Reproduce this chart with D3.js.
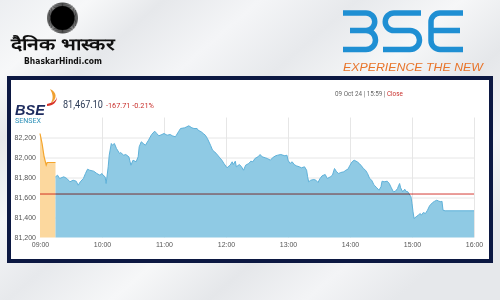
<!DOCTYPE html>
<meta charset="utf-8">
<style>
body { margin: 0; }
svg { display: block; font-family: Roboto, "Liberation Sans", sans-serif; }
.grid line { stroke: #e6e6e6; stroke-width: 1; }
.axis text { fill: #555; font-size: 7px; }
.axis path, .axis line { display: none; }
</style>
<svg width="500" height="300"></svg>
<script src="https://d3js.org/d3.v7.min.js"></script>
<script>

// pre-open session (orange)
var preTimes = ["09:00", "09:02", "09:04", "09:06", "09:07", "09:15"];
var preValues = [82240, 82140, 82005, 81925, 81950, 81950];

// normal session
var times = [
  "09:15","09:17","09:19","09:23","09:26","09:29","09:32","09:35","09:37","09:39",
  "09:42","09:44","09:46","09:48","09:52","09:55","09:58","10:00","10:01","10:03",
  "10:04","10:06","10:07","10:09","10:10","10:12","10:14","10:17","10:18","10:21",
  "10:23","10:26","10:28","10:30","10:33","10:35","10:36","10:38","10:40","10:42",
  "10:45","10:48","10:51","10:53","10:55","10:58","11:00","11:03","11:06","11:08",
  "11:11","11:12","11:14","11:16","11:20","11:22","11:24","11:27","11:29","11:32",
  "11:33","11:36","11:38","11:40","11:42","11:45","11:47","11:49","11:52","11:54",
  "11:56","11:58","12:01","12:02","12:04","12:06","12:07","12:09","12:10","12:13",
  "12:15","12:17","12:19","12:22","12:24","12:26","12:28","12:31","12:33","12:35",
  "12:38","12:40","12:43","12:45","12:48","12:50","12:53","12:57","12:59","13:00",
  "13:02","13:04","13:06","13:08","13:11","13:13","13:16","13:18","13:19","13:20",
  "13:22","13:25","13:27","13:29","13:31","13:33","13:36","13:38","13:41","13:43",
  "13:45","13:47","13:49","13:51","13:54","13:56","13:58","14:00","14:02","14:04",
  "14:07","14:09","14:11","14:13","14:15","14:17","14:19","14:21","14:23","14:24",
  "14:26","14:28","14:30","14:31","14:33","14:36","14:38","14:40","14:42","14:44",
  "14:46","14:47","14:48","14:49","14:51","14:53","14:54","14:56","14:57","14:59",
  "15:00","15:01","15:02","15:04","15:06","15:08","15:09","15:11","15:13","15:15",
  "15:17","15:20","15:22","15:24","15:26","15:28","15:29","15:30","15:32","16:00"
];
var values = [
  81807,81823,81790,81807,81790,81757,81773,81763,81723,81757,
  81790,81840,81883,81873,81863,81840,81823,81840,81823,81807,
  81740,81907,82023,82140,82123,82140,82090,82040,82050,82023,
  82030,82007,81923,81973,81957,82007,82107,82157,82140,82123,
  82173,82230,82263,82240,82217,82230,82240,82223,82230,82217,
  82207,82223,82257,82290,82297,82307,82317,82297,82290,82290,
  82273,82257,82240,82223,82190,82123,82073,82057,82023,81997,
  81973,81940,81897,81907,81923,81957,81930,81963,81907,81930,
  81907,81873,81923,81940,81963,81957,81990,82007,82030,82007,
  81997,81990,81973,81997,82017,82023,82030,82017,82023,81973,
  81940,81957,81930,81917,81907,81897,81907,81873,81807,81757,
  81773,81780,81773,81750,81790,81817,81830,81790,81807,81823,
  81890,81857,81840,81850,81857,81873,81883,81923,81957,81973,
  81957,81940,81917,81890,81873,81840,81790,81773,81730,81717,
  81697,81673,81707,81763,81757,81763,81740,81697,81657,81663,
  81690,81717,81740,81697,81657,81683,81663,81657,81640,81607,
  81540,81457,81390,81407,81423,81440,81423,81450,81440,81473,
  81517,81550,81563,81573,81563,81557,81563,81473,81467,81467
];

var prevClose = 81634.81;
var yTicks = [81200, 81400, 81600, 81800, 82000, 82200];
var xTicks = ["09:00","10:00","11:00","12:00","13:00","14:00","15:00","16:00"];

var svg = d3.select("svg");
var parse = d3.timeParse("%H:%M");

// background
var defs = svg.append("defs");
var bg = defs.append("linearGradient").attr("id", "bg")
    .attr("x1", 0).attr("y1", 0).attr("x2", 1).attr("y2", 0.7);
[["0%","#eceef1"],["12%","#f7f8f9"],["22%","#e6e8eb"],["35%","#f4f5f7"],["48%","#e7e9ec"],
 ["62%","#f6f7f8"],["75%","#e5e7ea"],["88%","#f3f4f6"],["100%","#e6e8eb"]].forEach(function(s) {
  bg.append("stop").attr("offset", s[0]).attr("stop-color", s[1]);
});
svg.append("rect").attr("width", 500).attr("height", 300).attr("fill", "url(#bg)");

// Dainik Bhaskar logo
var sun = svg.append("g").attr("transform", "translate(62.5,18)");
sun.selectAll("line").data(d3.range(96)).enter().append("line")
    .attr("x1", 0).attr("y1", 0)
    .attr("x2", function(d) { return 15.5 * Math.cos(d * Math.PI / 48); })
    .attr("y2", function(d) { return 15.5 * Math.sin(d * Math.PI / 48); })
    .attr("stroke", "#000").attr("stroke-width", 0.7);
sun.append("circle").attr("r", 12).attr("fill", "#000");
svg.append("text").attr("x", 62.5).attr("y", 50).attr("text-anchor", "middle")
    .attr("font-size", 16.5).attr("font-weight", "bold").attr("fill", "#111")
    .attr("textLength", 104).attr("lengthAdjust", "spacingAndGlyphs")
    .text("दैनिक भास्कर");
svg.append("text").attr("x", 63).attr("y", 63.5).attr("text-anchor", "middle")
    .attr("font-family", "'DejaVu Sans Condensed', sans-serif")
    .attr("font-size", 8).attr("font-weight", "bold").attr("fill", "#111")
    .attr("textLength", 78).attr("lengthAdjust", "spacingAndGlyphs")
    .text("BhaskarHindi.com");

// BSE logo
var bse = svg.append("g").attr("fill", "none").attr("stroke", "#1f8fd3")
    .attr("stroke-width", 5.5).attr("stroke-linecap", "butt");
bse.append("path").attr("d", "M343,13 H366 A8.75,8.75 0 0 1 366,30.5 H350 M366,30.5 A9.5,9.5 0 0 1 366,49.5 H343");
bse.append("path").attr("d", "M421,13 H394 A8.75,8.75 0 0 0 394,30.5 H410 A9.5,9.5 0 0 1 410,49.5 H383");
bse.append("path").attr("d", "M463,13 H440 A9,9 0 0 0 431,22 V40.5 A9,9 0 0 0 440,49.5 H463 M431,30.5 H460");
svg.append("text").attr("x", 343).attr("y", 70.5)
    .attr("font-family", "'Liberation Sans', Arial, sans-serif")
    .attr("font-size", 10.5).attr("font-style", "italic").attr("fill", "#e8742a")
    .attr("textLength", 140).attr("lengthAdjust", "spacingAndGlyphs")
    .text("EXPERIENCE THE NEW");

// chart frame
svg.append("rect").attr("x", 9).attr("y", 78).attr("width", 482).attr("height", 183)
    .attr("fill", "#fff").attr("stroke", "#0c1842").attr("stroke-width", 4);

// header
svg.append("path").attr("d", "M50,89 C57,92 58,99 50,104 C54,99 53,94 50,89 Z")
    .attr("fill", "#f0a030");
svg.append("path").attr("d", "M47,104 C52,103 56,101 57,97 C57,102 53,106 47,106 Z")
    .attr("fill", "#d8342a");
svg.append("text").attr("x", 15).attr("y", 114.5).attr("font-size", 14.5)
    .attr("font-weight", "bold").attr("font-style", "italic").attr("fill", "#1d2b5e")
    .attr("font-family", "'Liberation Sans', Arial, sans-serif")
    .text("BSE");
svg.append("text").attr("x", 15).attr("y", 123).attr("font-size", 7.3)
    .attr("fill", "#2d90b8").attr("textLength", 26).attr("lengthAdjust", "spacingAndGlyphs")
    .text("SENSEX");
svg.append("text").attr("x", 63).attr("y", 107.5).attr("font-size", 10.5)
    .attr("fill", "#2b3a55").attr("textLength", 40).attr("lengthAdjust", "spacingAndGlyphs")
    .text("81,467.10");
svg.append("text").attr("x", 106).attr("y", 107.5).attr("font-size", 7.3)
    .attr("fill", "#c9302c").text("-167.71 -0.21%");
var stamp = svg.append("text").attr("x", 335).attr("y", 96).attr("font-size", 6.3).attr("fill", "#666");
stamp.append("tspan").text("09 Oct 24 | 15:59 | ");
stamp.append("tspan").attr("fill", "#c9302c").text("Close");

// scales
var x = d3.scaleTime().domain([parse("09:00"), parse("16:00")]).range([40, 474]);
var y = d3.scaleLinear().domain([81200, 82400]).range([237.5, 117.5]);

var g = svg.append("g");

g.append("g").attr("class", "grid").selectAll("line")
    .data(yTicks.slice(1)).enter().append("line")
    .attr("x1", x.range()[0]).attr("x2", x.range()[1])
    .attr("y1", function(d) { return y(d) + 0.5; }).attr("y2", function(d) { return y(d) + 0.5; });
g.append("g").attr("class", "grid").selectAll("line")
    .data(xTicks.slice(1)).enter().append("line")
    .attr("x1", function(d) { return Math.round(x(parse(d))) + 0.5; })
    .attr("x2", function(d) { return Math.round(x(parse(d))) + 0.5; })
    .attr("y1", y(82400)).attr("y2", y(81200));

var pre = preTimes.map(function(t, i) { return { t: parse(t), v: preValues[i] }; });
var main = times.map(function(t, i) { return { t: parse(t), v: values[i] }; });

var area = d3.area().x(function(d) { return x(d.t); }).y0(y(81200)).y1(function(d) { return y(d.v); });
var line = d3.line().x(function(d) { return x(d.t); }).y(function(d) { return y(d.v); });

g.append("path").datum(pre).attr("d", area).attr("fill", "#fcd89e");
g.append("path").datum(pre).attr("d", line).attr("fill", "none")
    .attr("stroke", "#f4a52c").attr("stroke-width", 1.2);
g.append("path").datum(main).attr("d", area).attr("fill", "#8fcae4");
g.append("path").datum(main).attr("d", line).attr("fill", "none")
    .attr("stroke", "#5fb1d9").attr("stroke-width", 1);

g.append("line")
    .attr("x1", x.range()[0]).attr("x2", x.range()[1])
    .attr("y1", y(prevClose)).attr("y2", y(prevClose))
    .attr("stroke", "#d43a34").attr("stroke-width", 1)
    .style("mix-blend-mode", "multiply");

g.append("g").attr("class", "axis")
    .attr("transform", "translate(0," + y(81200) + ")")
    .call(d3.axisBottom(x).tickValues(xTicks.map(parse))
      .tickFormat(d3.timeFormat("%H:%M")).tickSize(0).tickPadding(5));

g.append("g").attr("class", "axis")
    .attr("transform", "translate(" + x.range()[0] + ",0)")
    .call(d3.axisLeft(y).tickValues(yTicks).tickFormat(d3.format(","))
      .tickSize(0).tickPadding(4));

</script>
